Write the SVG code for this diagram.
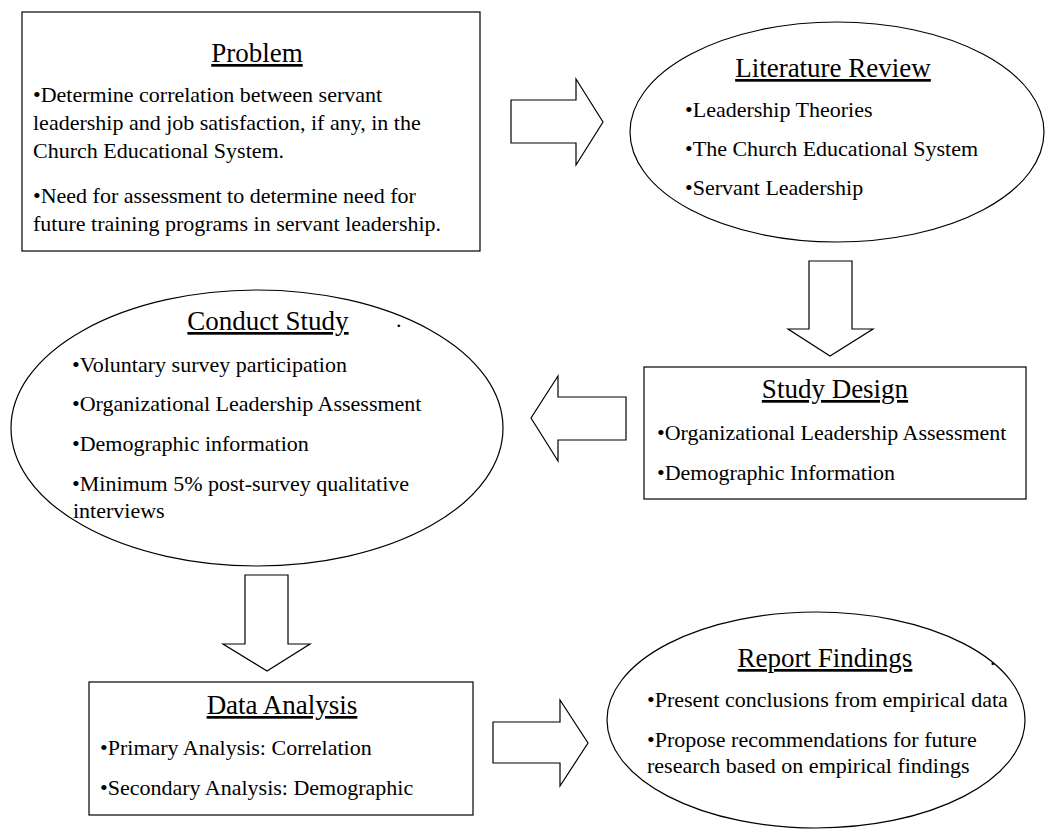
<svg xmlns="http://www.w3.org/2000/svg" width="1047" height="829" viewBox="0 0 1047 829">
<style>
.shape{fill:#fff;stroke:#000;stroke-width:1.2}
.arrow{fill:#fff;stroke:#000;stroke-width:1.2;stroke-linejoin:miter}
text{font-family:"Liberation Serif","Times New Roman",serif;fill:#000}
.title{font-size:27px;text-anchor:middle;text-decoration:underline}
.body{font-size:22px}
</style>
<rect width="1047" height="829" fill="#fff"/>
<g id="connectors">
<polygon class="arrow" points="511,100 576,100 576,79 603,122 576,165 576,143 511,143"/>
<polygon class="arrow" points="809,261 852,261 852,329 873,329 830,356 788,329 809,329"/>
<polygon class="arrow" points="626,397 558,397 558,376 531,418 558,461 558,440 626,440"/>
<polygon class="arrow" points="245,575 288,575 288,644 310,644 267,671 223,644 245,644"/>
<polygon class="arrow" points="493,722 560,722 560,700 588,743 560,786 560,763 493,763"/>
</g>
<g id="problem">
<rect class="shape" x="22" y="12" width="458" height="239"/>
<text class="title" x="257" y="62">Problem</text>
<text class="body" x="33" y="102">•Determine correlation between servant</text>
<text class="body" x="33" y="130">leadership and job satisfaction, if any, in the</text>
<text class="body" x="33" y="158">Church Educational System.</text>
<text class="body" x="33" y="203">•Need for assessment to determine need for</text>
<text class="body" x="33" y="231">future training programs in servant leadership.</text>
</g>
<g id="literature-review">
<ellipse class="shape" cx="837" cy="132" rx="207" ry="110"/>
<text class="title" x="833" y="77">Literature Review</text>
<text class="body" x="685" y="117">•Leadership Theories</text>
<text class="body" x="685" y="156">•The Church Educational System</text>
<text class="body" x="685" y="195">•Servant Leadership</text>
</g>
<g id="study-design">
<rect class="shape" x="644" y="367" width="382" height="132"/>
<text class="title" x="835" y="398">Study Design</text>
<text class="body" x="657" y="440">•Organizational Leadership Assessment</text>
<text class="body" x="657" y="480">•Demographic Information</text>
</g>
<g id="conduct-study">
<ellipse class="shape" cx="257" cy="428" rx="246" ry="138"/>
<text class="title" x="268" y="330">Conduct Study</text>
<text class="body" x="396" y="327">.</text>
<text class="body" x="72" y="372">•Voluntary survey participation</text>
<text class="body" x="72" y="411">•Organizational Leadership Assessment</text>
<text class="body" x="72" y="451">•Demographic information</text>
<text class="body" x="72" y="491">•Minimum 5% post-survey qualitative</text>
<text class="body" x="73" y="518">interviews</text>
</g>
<g id="data-analysis">
<rect class="shape" x="89" y="682" width="384" height="133"/>
<text class="title" x="282" y="714">Data Analysis</text>
<text class="body" x="100" y="755">•Primary Analysis: Correlation</text>
<text class="body" x="100" y="795">•Secondary Analysis: Demographic</text>
</g>
<g id="report-findings">
<ellipse class="shape" cx="816" cy="720" rx="209" ry="108"/>
<text class="title" x="825" y="667">Report Findings</text>
<text class="body" x="990" y="665">.</text>
<text class="body" x="647" y="707">•Present conclusions from empirical data</text>
<text class="body" x="647" y="747">•Propose recommendations for future</text>
<text class="body" x="647" y="773">research based on empirical findings</text>
</g>
</svg>
